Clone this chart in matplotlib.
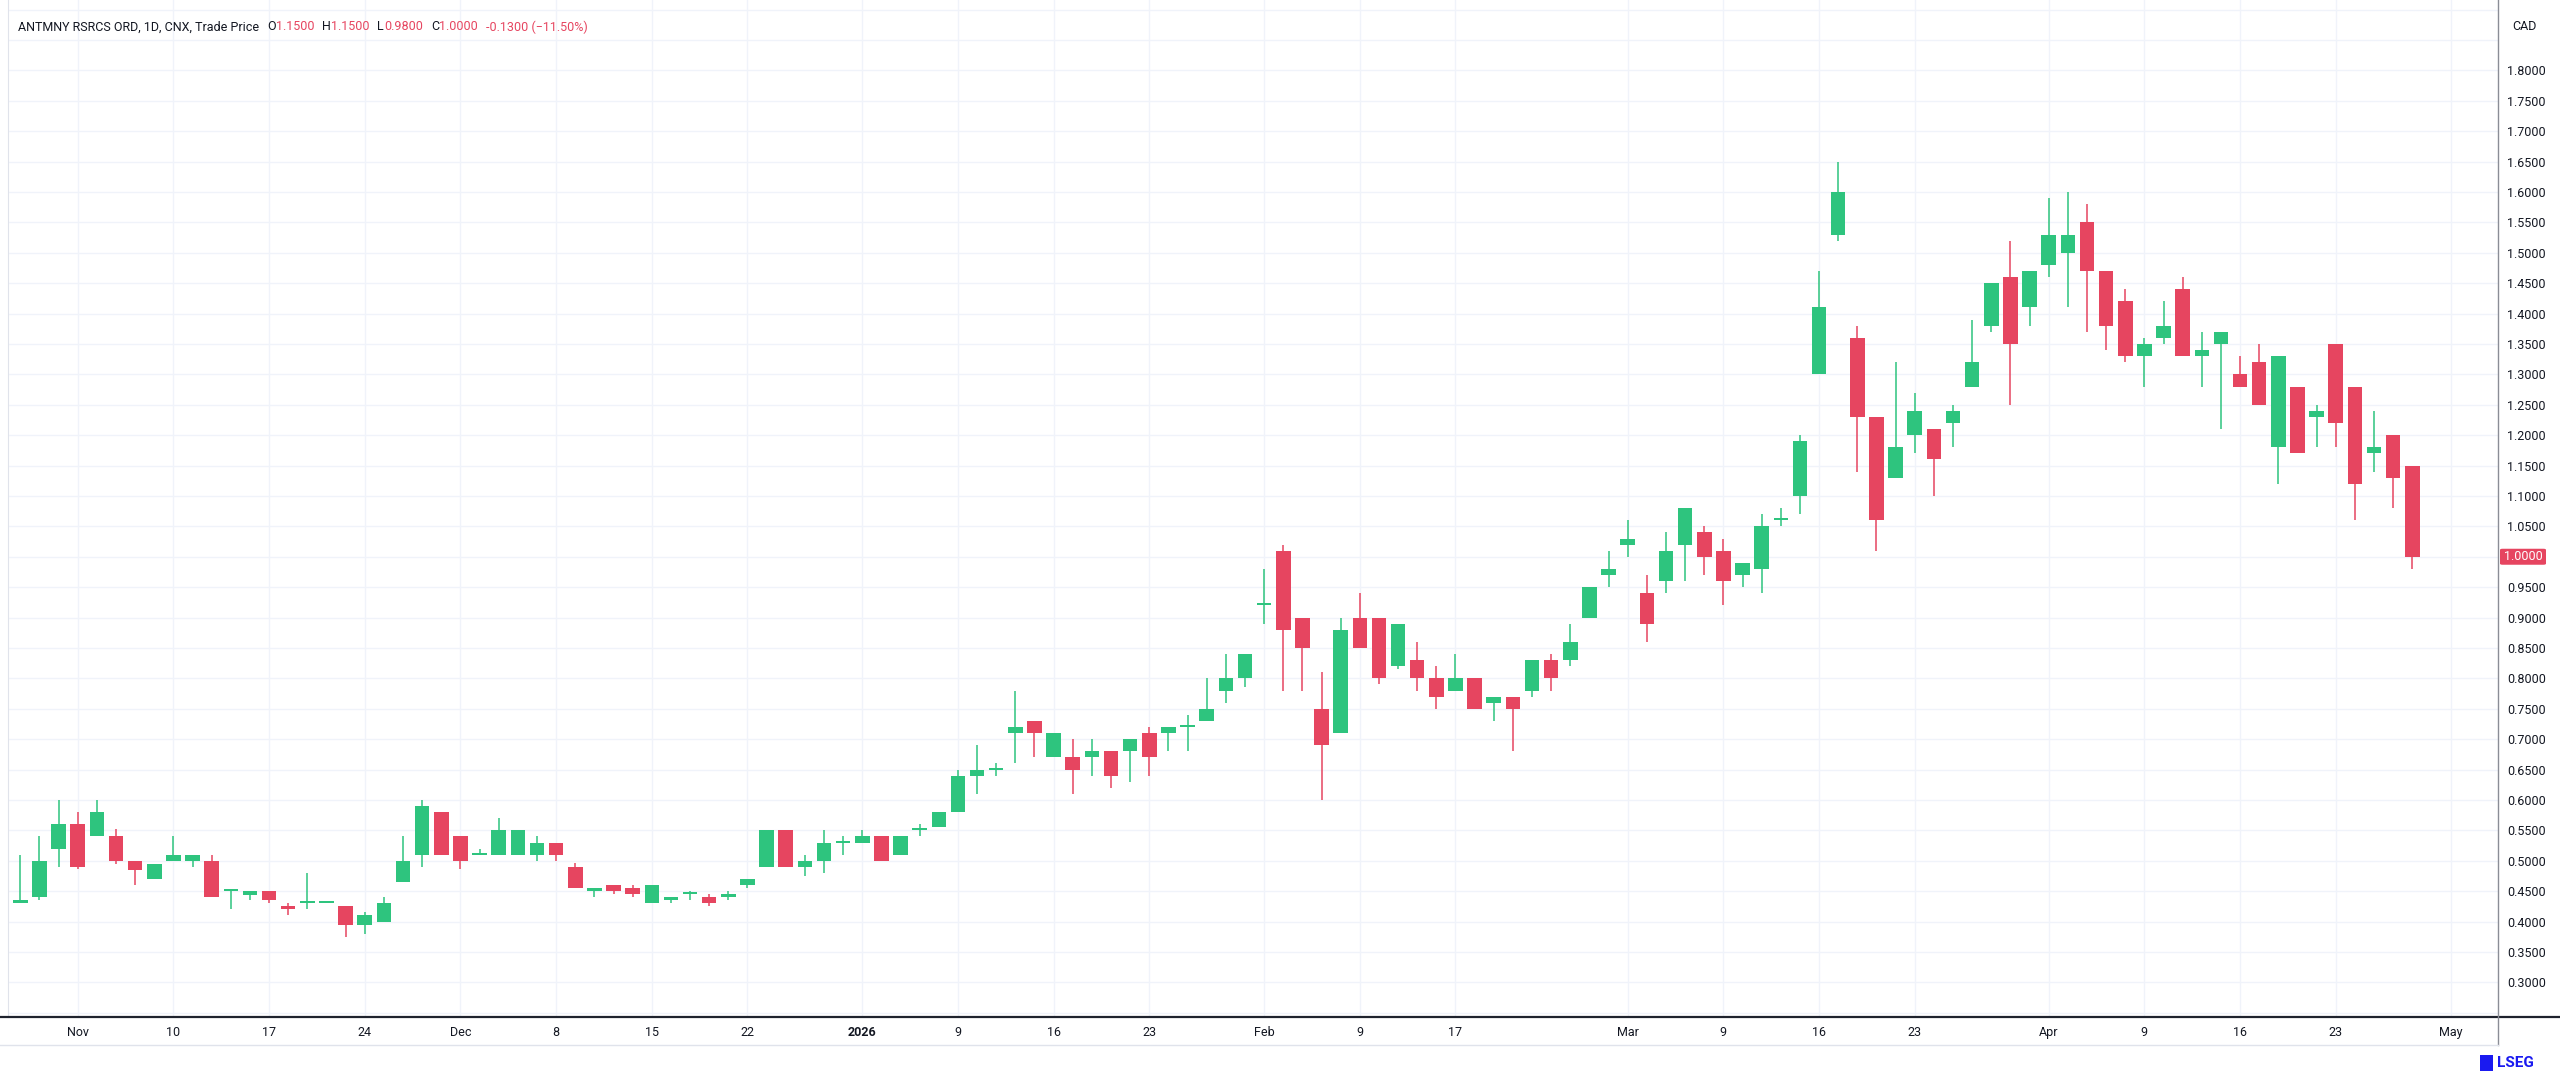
import numpy as np
import pandas as pd
import matplotlib.pyplot as plt
from matplotlib.patches import FancyBboxPatch, Rectangle

plt.rcParams['font.family'] = ['Roboto', 'DejaVu Sans']

# daily candles, CNX, 29 Oct 2025 .. 29 Apr 2026
opens = [0.43, 0.44, 0.52, 0.56, 0.54, 0.54, 0.50, 0.47, 0.50, 0.50,
         0.50, 0.45, 0.444, 0.45, 0.425, 0.43, 0.43, 0.425, 0.395, 0.40,
         0.465, 0.51, 0.58, 0.54, 0.51, 0.51, 0.51, 0.51, 0.53, 0.49,
         0.45, 0.46, 0.455, 0.43, 0.435, 0.445, 0.44, 0.44, 0.46, 0.49,
         0.55, 0.49, 0.50, 0.53, 0.53, 0.54, 0.51, 0.55, 0.555, 0.58,
         0.64, 0.65, 0.71, 0.73, 0.67, 0.67, 0.67, 0.68, 0.68, 0.71,
         0.71, 0.72, 0.73, 0.78, 0.80, 0.92, 1.01, 0.90, 0.75, 0.71,
         0.90, 0.90, 0.82, 0.83, 0.80, 0.78, 0.80, 0.76, 0.77, 0.78,
         0.83, 0.83, 0.90, 0.97, 1.02, 0.94, 0.96, 1.02, 1.04, 1.01,
         0.97, 0.98, 1.06, 1.10, 1.30, 1.53, 1.36, 1.23, 1.13, 1.20,
         1.21, 1.22, 1.28, 1.38, 1.46, 1.41, 1.48, 1.50, 1.55, 1.47,
         1.42, 1.33, 1.36, 1.44, 1.33, 1.35, 1.30, 1.32, 1.18, 1.28,
         1.23, 1.35, 1.28, 1.17, 1.20, 1.15]
highs = [0.51, 0.54, 0.60, 0.58, 0.60, 0.552, 0.50, 0.495, 0.54, 0.51,
         0.51, 0.45, 0.45, 0.45, 0.43, 0.48, 0.43, 0.425, 0.416, 0.44,
         0.54, 0.60, 0.58, 0.54, 0.52, 0.57, 0.55, 0.54, 0.53, 0.496,
         0.455, 0.46, 0.46, 0.46, 0.44, 0.45, 0.445, 0.45, 0.47, 0.55,
         0.55, 0.51, 0.55, 0.54, 0.55, 0.54, 0.54, 0.56, 0.58, 0.65,
         0.69, 0.66, 0.78, 0.73, 0.71, 0.70, 0.70, 0.68, 0.70, 0.72,
         0.72, 0.74, 0.80, 0.84, 0.84, 0.98, 1.02, 0.90, 0.81, 0.90,
         0.94, 0.90, 0.89, 0.86, 0.82, 0.84, 0.80, 0.77, 0.77, 0.83,
         0.84, 0.89, 0.95, 1.01, 1.06, 0.97, 1.04, 1.08, 1.05, 1.03,
         0.99, 1.07, 1.08, 1.20, 1.47, 1.65, 1.38, 1.23, 1.32, 1.27,
         1.21, 1.25, 1.39, 1.45, 1.52, 1.47, 1.59, 1.60, 1.58, 1.47,
         1.44, 1.36, 1.42, 1.46, 1.37, 1.37, 1.33, 1.35, 1.33, 1.28,
         1.25, 1.35, 1.28, 1.24, 1.20, 1.15]
lows = [0.43, 0.435, 0.49, 0.487, 0.54, 0.495, 0.46, 0.47, 0.50, 0.49,
        0.44, 0.42, 0.436, 0.43, 0.41, 0.42, 0.43, 0.375, 0.38, 0.40,
        0.465, 0.49, 0.51, 0.487, 0.51, 0.51, 0.51, 0.50, 0.50, 0.455,
        0.44, 0.445, 0.44, 0.43, 0.43, 0.435, 0.425, 0.435, 0.455, 0.49,
        0.49, 0.475, 0.48, 0.51, 0.53, 0.50, 0.51, 0.54, 0.555, 0.58,
        0.61, 0.64, 0.66, 0.67, 0.67, 0.61, 0.64, 0.62, 0.63, 0.64,
        0.68, 0.68, 0.73, 0.76, 0.785, 0.89, 0.78, 0.78, 0.60, 0.71,
        0.85, 0.79, 0.815, 0.78, 0.75, 0.78, 0.75, 0.73, 0.68, 0.77,
        0.78, 0.82, 0.90, 0.95, 1.00, 0.86, 0.94, 0.96, 0.97, 0.92,
        0.95, 0.94, 1.05, 1.07, 1.30, 1.52, 1.14, 1.01, 1.13, 1.17,
        1.10, 1.18, 1.28, 1.37, 1.25, 1.38, 1.46, 1.41, 1.37, 1.34,
        1.32, 1.28, 1.35, 1.33, 1.28, 1.21, 1.28, 1.25, 1.12, 1.17,
        1.18, 1.18, 1.06, 1.14, 1.08, 0.98]
closes = [0.435, 0.50, 0.56, 0.49, 0.58, 0.50, 0.485, 0.495, 0.51, 0.51,
          0.44, 0.45, 0.45, 0.435, 0.42, 0.43, 0.43, 0.395, 0.41, 0.43,
          0.50, 0.59, 0.51, 0.50, 0.511, 0.55, 0.55, 0.53, 0.51, 0.455,
          0.455, 0.45, 0.445, 0.46, 0.44, 0.445, 0.43, 0.445, 0.47, 0.55,
          0.49, 0.50, 0.53, 0.53, 0.54, 0.50, 0.54, 0.55, 0.58, 0.64,
          0.65, 0.651, 0.72, 0.71, 0.71, 0.65, 0.68, 0.64, 0.70, 0.67,
          0.72, 0.72, 0.75, 0.80, 0.84, 0.92, 0.88, 0.85, 0.69, 0.88,
          0.85, 0.80, 0.89, 0.80, 0.77, 0.80, 0.75, 0.77, 0.75, 0.83,
          0.80, 0.86, 0.95, 0.98, 1.03, 0.89, 1.01, 1.08, 1.00, 0.96,
          0.99, 1.05, 1.06, 1.19, 1.41, 1.60, 1.23, 1.06, 1.18, 1.24,
          1.16, 1.24, 1.32, 1.45, 1.35, 1.47, 1.53, 1.53, 1.47, 1.38,
          1.33, 1.35, 1.38, 1.33, 1.34, 1.37, 1.28, 1.25, 1.33, 1.17,
          1.24, 1.22, 1.12, 1.18, 1.13, 1.00]

holidays = ['2025-12-25', '2025-12-26', '2026-01-01', '2026-02-16', '2026-04-03']
days = pd.bdate_range('2025-10-29', '2026-05-08')
days = days[~days.isin(pd.to_datetime(holidays))]

tick_dates = ['2025-11-03', '2025-11-10', '2025-11-17', '2025-11-24', '2025-12-01',
              '2025-12-08', '2025-12-15', '2025-12-22', '2026-01-02', '2026-01-09',
              '2026-01-16', '2026-01-23', '2026-02-02', '2026-02-09', '2026-02-17',
              '2026-03-02', '2026-03-09', '2026-03-16', '2026-03-23', '2026-04-01',
              '2026-04-09', '2026-04-16', '2026-04-23', '2026-05-01']
tick_labels = ['Nov', '10', '17', '24', 'Dec', '8', '15', '22', '2026', '9',
               '16', '23', 'Feb', '9', '17', 'Mar', '9', '16', '23', 'Apr',
               '9', '16', '23', 'May']

UP, DOWN = '#2EC47E', '#E64560'
TXT = '#131722'
GRID = '#F0F3FA'
W, H = 2560, 1076

o, h, l, c = map(np.array, (opens, highs, lows, closes))
x = np.arange(1, len(o) + 1)
cols = np.where(c >= o, UP, DOWN)

fig = plt.figure(figsize=(W / 100, H / 100), dpi=100)
ax = fig.add_axes([8 / W, 59 / H, 2490 / W, 1017 / H])
ax.set_xlim(0.357, 130.48)
ax.set_ylim(0.243, 1.9157)

# grid
for g in np.arange(0.25, 1.95, 0.05):
    ax.axhline(g, color=GRID, lw=1, zorder=0)
tick_x = [days.get_loc(pd.Timestamp(d)) + 1 for d in tick_dates]
for tx in tick_x:
    ax.axvline(tx, color=GRID, lw=1, zorder=0)

# candles
ax.vlines(x, l, h, colors=cols, lw=1.1, zorder=2)
body = np.maximum(np.abs(c - o), 0.0032)
ax.bar(x, body, bottom=np.minimum(o, c), width=0.76, color=cols,
       edgecolor='none', zorder=3)

for s in ['top', 'right', 'bottom']:
    ax.spines[s].set_visible(False)
ax.spines['left'].set_color('#E0E3EB')

# price scale
yt = np.arange(0.30, 1.801, 0.05)
ax.yaxis.tick_right()
ax.set_yticks(yt)
ax.set_yticklabels([f'{v:.4f}' for v in yt])
ax.tick_params(axis='y', length=0, pad=6.3, labelsize=9, labelcolor=TXT)

ax.set_xticks(tick_x)
ax.set_xticklabels(tick_labels)
ax.tick_params(axis='x', length=0, pad=6.5, labelsize=9, labelcolor=TXT)
for t in ax.get_xticklabels():
    if t.get_text() == '2026':
        t.set_fontweight('bold')

# axis frames
fig.add_artist(plt.Line2D([0, 1], [1 - 1017 / H] * 2, color='#1E222D', lw=1.6))
fig.add_artist(plt.Line2D([2498 / W] * 2, [1 - 1045 / H, 1], color='#8A8D96', lw=1))
fig.add_artist(plt.Line2D([0, 2498 / W], [1 - 1045 / H] * 2, color='#E0E3EB', lw=1))
fig.text(2524 / W, 1 - 27 / H, 'CAD', ha='center', va='center', fontsize=9, color=TXT)

# last price tag
last = c[-1]
ty = ax.transData.transform((0, last))[1]
fig.add_artist(FancyBboxPatch((2500 / W, (ty - 8) / H), 46 / W, 16 / H,
                              boxstyle='round,pad=0,rounding_size=0.001',
                              fc=DOWN, ec='none', transform=fig.transFigure))
fig.text(2523 / W, ty / H, f'{last:.4f}', ha='center', va='center',
         fontsize=9, color='white')

# legend line
chg = c[-1] - c[-2]
pct = chg / c[-2] * 100
parts = [('ANTMNY RSRCS ORD, 1D, CNX, Trade Price', TXT, 8),
         ('O', TXT, 0), (f'{o[-1]:.4f}', DOWN, 8),
         ('H', TXT, 0), (f'{h[-1]:.4f}', DOWN, 8),
         ('L', TXT, 0), (f'{l[-1]:.4f}', DOWN, 8),
         ('C', TXT, 0), (f'{c[-1]:.4f}', DOWN, 8),
         (f'{chg:.4f} (\u2212{abs(pct):.2f}%)', DOWN, 0)]
r = fig.canvas.get_renderer()
px = 18
for txt, col, gap in parts:
    t = fig.text(px / W, 1 - 27 / H, txt, color=col, fontsize=9, va='center', ha='left')
    px = t.get_window_extent(renderer=r).x1 + gap

# LSEG mark
fig.add_artist(Rectangle((2480 / W, 1 - 1071 / H), 13 / W, 16 / H,
                         fc='#1A1AF0', ec='none', transform=fig.transFigure))
fig.text(2497 / W, 1 - 1063 / H, 'LSEG', color='#1A1AF0', fontsize=11,
         fontweight='bold', va='center', ha='left')

fig.savefig('out.png', dpi=100, facecolor='white')
